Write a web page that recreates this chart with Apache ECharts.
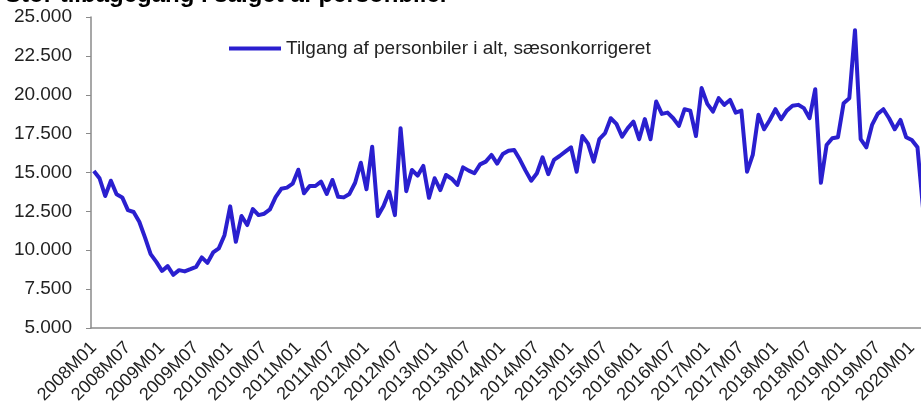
<!DOCTYPE html>
<html>
<head>
<meta charset="utf-8">
<script src="https://cdn.jsdelivr.net/npm/echarts@6/dist/echarts.min.js"></script>
<style>
  html, body { margin: 0; padding: 0; background: #fff; }
  #main { width: 921px; height: 409px; }
</style>
</head>
<body>
<div id="main"></div>
<script>
// monthly categories 2008M01 .. 2020M03
const startYear = 2008;
const monthCount = 147;
const categories = [];
for (let i = 0; i < monthCount; i++) {
  const y = startYear + Math.floor(i / 12);
  const m = (i % 12) + 1;
  categories.push(y + 'M' + (m < 10 ? '0' + m : m));
}

// Tilgang af personbiler i alt, saesonkorrigeret
const tilgang = [
  15100, 14630, 13490, 14470, 13600, 13400, 12580, 12460, 11830, 10830, 9750, 9250,
  8670, 8980, 8420, 8720, 8640, 8780, 8930, 9540, 9190, 9860, 10120, 10970,
  12820, 10540, 12200, 11620, 12650, 12260, 12350, 12630, 13420, 13950, 14030, 14280,
  15180, 13660, 14130, 14130, 14410, 13620, 14520, 13440, 13400, 13620, 14340, 15630,
  13920, 16660, 12200, 12840, 13760, 12260, 17850, 13800, 15160, 14800, 15420, 13370,
  14630, 13870, 14840, 14600, 14200, 15330, 15120, 14950, 15520, 15700, 16130, 15570,
  16190, 16400, 16450, 15830, 15120, 14470, 14950, 15980, 14890, 15810, 16060, 16340,
  16620, 15050, 17350, 16860, 15700, 17150, 17530, 18490, 18130, 17310, 17850, 18270,
  17140, 18430, 17140, 19560, 18770, 18850, 18490, 18000, 19070, 18980, 17350, 20430,
  19410, 18920, 19780, 19350, 19670, 18850, 18980, 15050, 16130, 18710, 17780, 18380,
  19070, 18430, 18980, 19290, 19350, 19140, 18490, 20360, 14340, 16770, 17200, 17270,
  19460, 19780, 24150, 17140, 16620, 18060, 18770, 19070, 18490, 17780, 18380, 17270,
  17090, 16620, 12600
];

const seriesName = 'Tilgang af personbiler i alt, sæsonkorrigeret';
const titleText = 'Stor tilbagegang i salget af personbiler';

const chart = echarts.init(document.getElementById('main'));

// 25000 -> "25.000"
function dk(v) {
  return String(v).replace(/\B(?=(\d{3})+(?!\d))/g, '.');
}

const option = {
  animation: false,
  title: {
    text: titleText,
    left: 0,
    top: -22,
    textStyle: {
      fontFamily: 'Liberation Sans',
      fontWeight: 'bold',
      fontSize: 24,
      color: '#000'
    }
  },
  legend: {
    left: 224,
    top: 34,
    icon: 'rect',
    itemWidth: 52,
    itemHeight: 4,
    textStyle: {
      fontFamily: 'Liberation Sans',
      fontSize: 19,
      color: '#222'
    },
    data: [seriesName]
  },
  grid: {
    left: 91,
    top: 17,
    bottom: 81,
    width: 835,
    outerBoundsMode: 'none'
  },
  xAxis: {
    type: 'category',
    data: categories,
    boundaryGap: true,
    axisLine: { lineStyle: { color: '#8a8a8a', width: 1.5 } },
    axisTick: { interval: 0, length: 5, lineStyle: { color: '#8a8a8a' } },
    axisLabel: {
      interval: 5,
      rotate: 45,
      margin: 17,
      fontFamily: 'Liberation Sans',
      fontSize: 18,
      color: '#222'
    }
  },
  yAxis: {
    type: 'value',
    min: 5000,
    max: 25000,
    interval: 2500,
    splitLine: { show: false },
    axisLine: { show: true, lineStyle: { color: '#8a8a8a', width: 1.5 } },
    axisTick: { show: true, length: 5, lineStyle: { color: '#8a8a8a' } },
    axisLabel: {
      margin: 19,
      fontFamily: 'Liberation Sans',
      fontSize: 19,
      color: '#222',
      formatter: function (v) { return dk(v); }
    }
  },
  series: [
    {
      name: seriesName,
      type: 'line',
      data: tilgang,
      symbol: 'none',
      lineStyle: { color: '#2a1fcf', width: 4, join: 'round' },
      itemStyle: { color: '#2a1fcf' }
    }
  ]
};

chart.setOption(option);
</script>
</body>
</html>
